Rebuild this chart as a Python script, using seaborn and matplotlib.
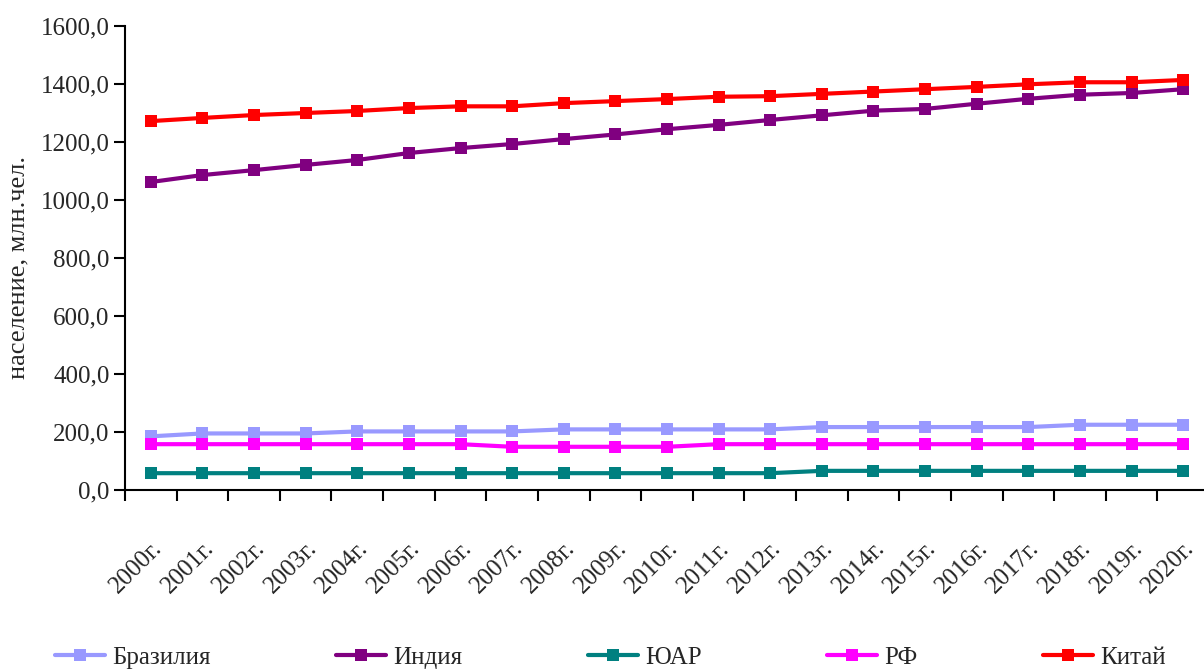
import numpy as np
import pandas as pd
import matplotlib
matplotlib.use("Agg")
import matplotlib.pyplot as plt
from matplotlib.ticker import FixedLocator, FuncFormatter
import seaborn as sns

years = [f"{y}г." for y in range(2000, 2021)]
brazil = [185, 195, 195, 195, 202, 202, 202, 202, 209, 209, 209, 209, 209,
          217, 217, 217, 217, 217, 225, 225, 225]
india = [1062, 1086, 1103, 1121, 1138, 1162, 1179, 1193, 1210, 1226, 1244,
         1259, 1276, 1292, 1308, 1314, 1332, 1349, 1363, 1369, 1382]
sa = [58, 58, 58, 58, 58, 58, 58, 58, 58, 58, 58, 58, 58,
      66, 66, 66, 66, 66, 66, 66, 66]
rf = [158, 158, 158, 158, 158, 158, 158, 149, 149, 149, 149,
      158, 158, 158, 158, 158, 158, 158, 158, 158, 158]
china = [1272, 1283, 1293, 1300, 1307, 1317, 1323, 1323, 1334, 1341, 1348,
         1356, 1358, 1366, 1374, 1382, 1390, 1399, 1406, 1406, 1414]
names = ["Бразилия", "Индия", "ЮАР", "РФ", "Китай"]
colors = ["#9999FF", "#800080", "#008080", "#FF00FF", "#FF0000"]
series = [brazil, india, sa, rf, china]

rows = []
for name, vals in zip(names, series):
    for i, v in enumerate(vals):
        rows.append({"idx": i, "year": years[i], "value": v, "country": name})
df = pd.DataFrame(rows)

sns.set_theme(style="white")
plt.rcParams["font.family"] = ["Liberation Serif", "DejaVu Serif"]

fig = plt.figure(figsize=(12.04, 6.71), dpi=100)
ax = fig.add_axes([125 / 1204, 1 - 490 / 671, 1084 / 1204, 464 / 671])

sns.lineplot(data=df, x="idx", y="value", hue="country", hue_order=names,
             palette=dict(zip(names, colors)), marker="s", markersize=9,
             markeredgewidth=0, linewidth=3, ax=ax, legend=False)

ax.set_xlim(-0.5, 20.5)
ax.set_ylim(0, 1600)
ax.set_yticks(np.arange(0, 1601, 200))
ax.yaxis.set_major_formatter(FuncFormatter(lambda v, p: f"{v:.1f}".replace(".", ",")))

ax.xaxis.set_major_locator(FixedLocator(np.arange(-0.5, 21, 1)))
ax.xaxis.set_major_formatter(FuncFormatter(lambda v, p: ""))
ax.set_xticks(np.arange(0, 21), labels=years, minor=True)
for lbl in ax.get_xticklabels(minor=True):
    lbl.set_rotation(45)
    lbl.set_ha("right")
    lbl.set_rotation_mode("anchor")
    lbl.set_fontsize(18)

ax.tick_params(axis="x", which="major", direction="out", length=8, width=1.5,
               color="black", bottom=True)
ax.tick_params(axis="x", which="minor", length=0, pad=34, bottom=True)
ax.tick_params(axis="y", which="major", direction="out", length=8, width=1.5,
               color="black", labelsize=18, left=True, pad=3)

for s in ["top", "right"]:
    ax.spines[s].set_visible(False)
for s in ["left", "bottom"]:
    ax.spines[s].set_color("black")
    ax.spines[s].set_linewidth(1.5)

ax.set_xlabel("")
ax.set_ylabel("население, млн.чел.", fontsize=19)
ax.yaxis.set_label_coords((29 - 125) / 1084, 0.48)
ax.grid(False)

handles = [plt.Line2D([], [], color=c, marker="s", markersize=9, markeredgewidth=0,
                      linewidth=3) for c in colors]
fig.legend(handles, names, loc="lower center", bbox_to_anchor=(0.507, -0.03),
           ncol=5, frameon=False, fontsize=18, handlelength=2.0,
           columnspacing=5.0, handletextpad=0.3)

fig.savefig("out.png", dpi=100, facecolor="white")
